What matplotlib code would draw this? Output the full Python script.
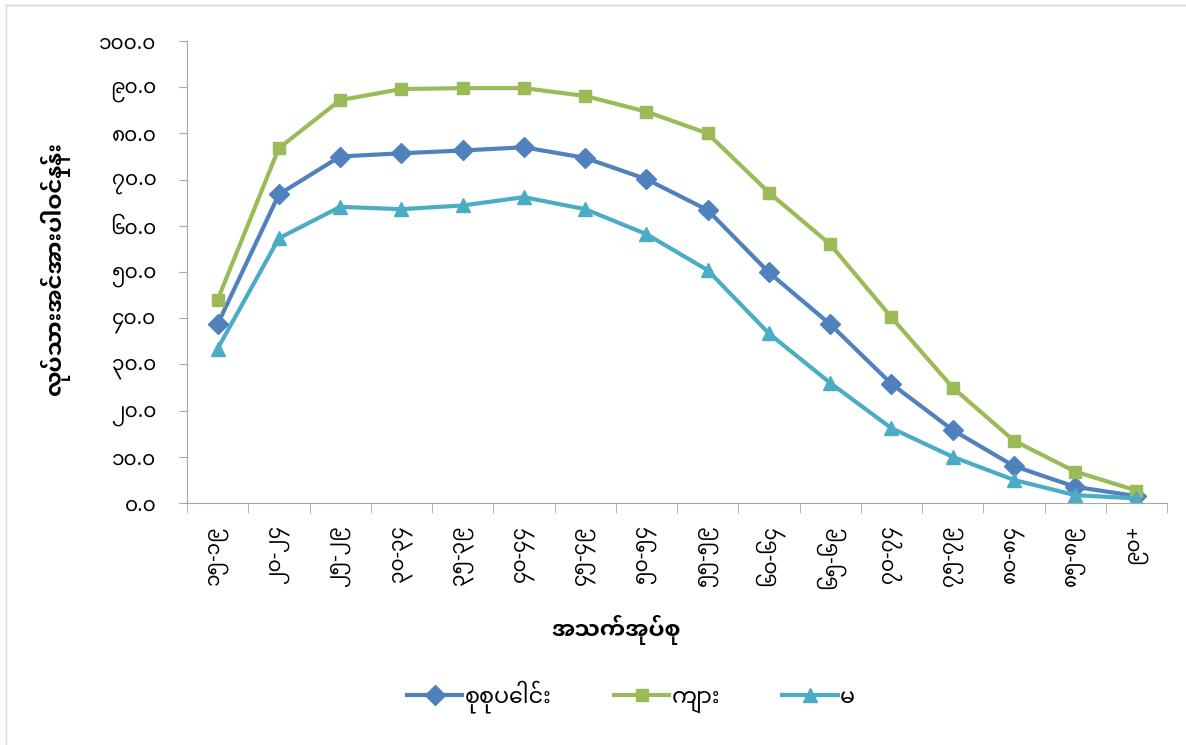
import matplotlib
matplotlib.use("Agg")
import matplotlib.pyplot as plt
from matplotlib.lines import Line2D

# Datos
grupos = ["၁၅-၁၉", "၂၀-၂၄", "၂၅-၂၉", "၃၀-၃၄", "၃၅-၃၉", "၄၀-၄၄", "၄၅-၄၉", "၅၀-၅၄",
          "၅၅-၅၉", "၆၀-၆၄", "၆၅-၆၉", "၇၀-၇၄", "၇၅-၇၉", "၈၀-၈၄", "၈၅-၈၉", "၉၀+"]
total = [38.7, 66.8, 75.0, 75.7, 76.3, 77.0, 74.7, 70.1,
         63.4, 49.9, 38.7, 25.8, 15.8, 8.0, 3.5, 1.5]
hombres = [44.0, 76.8, 87.2, 89.6, 89.8, 89.8, 88.1, 84.7,
           80.0, 67.2, 56.0, 40.2, 25.0, 13.5, 6.8, 2.7]
mujeres = [33.4, 57.3, 64.1, 63.6, 64.4, 66.2, 63.6, 58.2,
           50.4, 36.7, 26.0, 16.2, 10.0, 5.0, 1.7, 1.0]
nombres = ["စုစုပေါင်း", "ကျား", "မ"]
y_ticks = [0, 10, 20, 30, 40, 50, 60, 70, 80, 90, 100]
y_labels = ["၀.၀", "၁၀.၀", "၂၀.၀", "၃၀.၀", "၄၀.၀", "၅၀.၀", "၆၀.၀", "၇၀.၀", "၈၀.၀", "၉၀.၀", "၁၀၀.၀"]
titulo_y = "လုပ်သားအင်အားပါဝင်နှုန်း"
titulo_x = "အသက်အုပ်စု"

plt.rcParams["font.family"] = ["Noto Sans Myanmar", "DejaVu Sans"]
negrita = ["Noto Sans Myanmar UI", "Noto Sans Myanmar", "DejaVu Sans"]

azul = "#4F81BD"
verde = "#9BBB59"
celeste = "#4BACC6"

fig = plt.figure(figsize=(11.86, 7.45), dpi=100)
ax = fig.add_axes([187 / 1186, 1 - 503 / 745, 980 / 1186, 462 / 745])

x = list(range(len(grupos)))
ax.plot(x, total, color=azul, lw=3, marker="D", ms=10)
ax.plot(x, hombres, color=verde, lw=3, marker="s", ms=9)
ax.plot(x, mujeres, color=celeste, lw=3, marker="^", ms=10)

ax.set_xlim(-0.5, len(grupos) - 0.5)
ax.set_ylim(0, 100)
ax.set_yticks(y_ticks)
ax.set_yticklabels(y_labels, fontsize=14.5)
ax.set_xticks(x)
ax.set_xticklabels(grupos, rotation=90, fontsize=14.5, va="top")
ax.set_xticks([i - 0.5 for i in range(len(grupos) + 1)], minor=True)
ax.tick_params(axis="x", which="major", length=0, pad=16)
ax.tick_params(axis="x", which="minor", length=7, color="#A6A6A6")
ax.tick_params(axis="y", length=6, pad=16, color="#A6A6A6")
for lado in ["top", "right"]:
    ax.spines[lado].set_visible(False)
for lado in ["left", "bottom"]:
    ax.spines[lado].set_color("#A6A6A6")

fig.text(55 / 1186, 1 - 268 / 745, titulo_y, rotation=90, fontsize=16.5,
         fontweight="bold", family=negrita, ha="center", va="center")
fig.text(616 / 1186, 1 - 630 / 745, titulo_x, fontsize=16.5,
         fontweight="bold", family=negrita, ha="center", va="center")

handles = [Line2D([], [], color=azul, lw=3, marker="D", ms=10),
           Line2D([], [], color=verde, lw=3, marker="s", ms=9),
           Line2D([], [], color=celeste, lw=3, marker="^", ms=10)]
fig.legend(handles, nombres, loc="center", bbox_to_anchor=(631 / 1186, 1 - 697 / 745),
           ncol=3, frameon=False, fontsize=16, handlelength=2.5, columnspacing=2.8,
           handletextpad=0.1)

# Borde del área del gráfico
fig.add_artist(Line2D([6 / 1186, 1], [1 - 4.5 / 745, 1 - 4.5 / 745], color="#D9D9D9", lw=1))
fig.add_artist(Line2D([6 / 1186, 6 / 1186], [0, 1 - 4.5 / 745], color="#D9D9D9", lw=1))

fig.savefig("out.png", dpi=100)
